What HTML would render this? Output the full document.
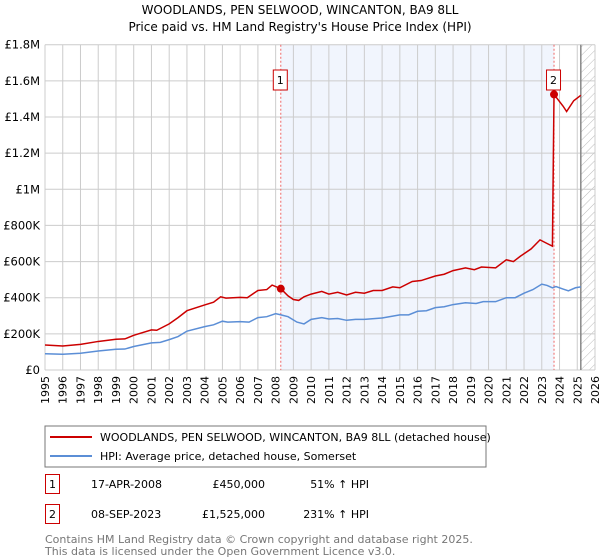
<!DOCTYPE html>
<html><head><meta charset="utf-8"><style>
body{margin:0;width:600px;height:560px;background:#fff;font-family:"DejaVu Sans","Liberation Sans",sans-serif;overflow:hidden}
svg{position:absolute;left:0;top:0}
</style></head><body>
<svg width="600" height="560" id="chart">
<defs><pattern id="hatch" width="6" height="6" patternUnits="userSpaceOnUse" patternTransform="rotate(45)"><line x1="0" y1="0" x2="0" y2="6" stroke="#bbb" stroke-width="1"/></pattern></defs>
<text x="300" y="14" text-anchor="middle" font-size="12">WOODLANDS, PEN SELWOOD, WINCANTON, BA9 8LL</text>
<text x="300" y="31" text-anchor="middle" font-size="12">Price paid vs. HM Land Registry's House Price Index (HPI)</text>
<g id="grid"></g><g id="marks"></g><g id="axes"></g>
<rect x="45" y="426" width="441" height="41" fill="#fff" stroke="#777"/>
<line x1="50" y1="437" x2="92" y2="437" stroke="#cc0000" stroke-width="2"/>
<text x="100" y="441" font-size="11">WOODLANDS, PEN SELWOOD, WINCANTON, BA9 8LL (detached house)</text>
<line x1="50" y1="456" x2="92" y2="456" stroke="#5b8ed6" stroke-width="2"/>
<text x="100" y="460" font-size="11">HPI: Average price, detached house, Somerset</text>
<g font-size="11">
<rect x="45.5" y="474.5" width="14" height="19" fill="#fff" stroke="#cc0000"/>
<text x="52.5" y="488" text-anchor="middle">1</text>
<text x="91" y="488">17-APR-2008</text><text x="265" y="488" text-anchor="end">£450,000</text><text x="369" y="488" text-anchor="end">51% ↑ HPI</text>
<rect x="45.5" y="504.5" width="14" height="19" fill="#fff" stroke="#cc0000"/>
<text x="52.5" y="518" text-anchor="middle">2</text>
<text x="91" y="518">08-SEP-2023</text><text x="265" y="518" text-anchor="end">£1,525,000</text><text x="369" y="518" text-anchor="end">231% ↑ HPI</text>
</g>
<text x="45" y="543" font-size="11" fill="#777">Contains HM Land Registry data © Crown copyright and database right 2025.</text>
<text x="45" y="555" font-size="11" fill="#777">This data is licensed under the Open Government Licence v3.0.</text>
</svg>
<script>
const yTicks=[0,200000,400000,600000,800000,1000000,1200000,1400000,1600000,1800000];
const yTickLabels=["£0","£200K","£400K","£600K","£800K","£1M","£1.2M","£1.4M","£1.6M","£1.8M"];
const xYears=[1995,1996,1997,1998,1999,2000,2001,2002,2003,2004,2005,2006,2007,2008,2009,2010,2011,2012,2013,2014,2015,2016,2017,2018,2019,2020,2021,2022,2023,2024,2025,2026];
const saleDates=[2008.29,2023.69];
const salePrices=[450000,1525000];
const priceT=[1995,1996,1997,1998,1999,1999.5,2000,2001,2001.3,2002,2002.5,2003,2004,2004.5,2004.9,2005.2,2006,2006.4,2007,2007.5,2007.8,2008.29,2008.7,2009,2009.3,2009.6,2010,2010.6,2011,2011.5,2012,2012.5,2013,2013.5,2014,2014.6,2015,2015.7,2016.2,2017,2017.5,2018,2018.7,2019.2,2019.6,2020.4,2021,2021.4,2021.8,2022.4,2022.9,2023.3,2023.6,2023.69,2024.2,2024.4,2024.8,2025.2];
const priceV=[138,133,142,158,170,172,192,222,220,255,290,328,360,375,405,398,402,400,440,445,470,450,410,390,385,405,420,435,420,430,415,430,425,440,440,460,455,490,495,520,530,550,565,555,570,565,610,600,630,670,720,700,685,1525,1460,1430,1490,1520];
const hpiT=[1995,1996,1997,1998,1999,1999.5,2000,2001,2001.5,2002,2002.5,2003,2004,2004.5,2005,2005.3,2006,2006.5,2007,2007.5,2008,2008.3,2008.7,2009.2,2009.6,2010,2010.6,2011,2011.5,2012,2012.5,2013,2014,2015,2015.5,2016,2016.5,2017,2017.5,2018,2018.7,2019.3,2019.7,2020.4,2021,2021.5,2022,2022.5,2023,2023.3,2023.6,2023.8,2024.2,2024.5,2024.9,2025.2];
const hpiV=[90,87,93,105,115,116,130,150,153,168,185,215,240,250,270,265,268,265,290,295,312,305,295,265,255,280,290,282,285,275,280,280,288,305,305,325,328,345,350,362,372,368,378,378,400,400,425,445,475,468,455,462,448,438,455,460];
const L=45,R=595,T=44.7,B=370;
const xs=t=>L+(t-1995)/(2026-1995)*(R-L);
const ys=v=>B-v/1800000*(B-T);
const NS="http://www.w3.org/2000/svg";
function mk(tag,attrs,parent){const e=document.createElementNS(NS,tag);for(const k in attrs)e.setAttribute(k,attrs[k]);parent.appendChild(e);return e;}
const grid=document.getElementById('grid'),marks=document.getElementById('marks'),axes=document.getElementById('axes');
const bg=mk('rect',{x:L,y:T,width:R-L,height:B-T,fill:'#fff'},grid);


const shade=mk('rect',{x:xs(saleDates[0]),y:T,width:xs(saleDates[1])-xs(saleDates[0]),height:B-T,fill:'#eef3fc',opacity:0.8},grid);


const hatch=mk('rect',{x:xs(2025.2),y:T,width:R-xs(2025.2),height:B-T,fill:'url(#hatch)'},grid);


xYears.forEach(y=>{const g=mk('line',{x1:xs(y),x2:xs(y),y1:T,y2:B,stroke:'#ccc'},grid);


const t=mk('text',{x:0,y:0,'font-size':11,'text-anchor':'end',transform:`translate(${xs(y)+4},${B+6}) rotate(-90)`},axes);t.textContent=y;

});
yTicks.forEach((v,i)=>{const g=mk('line',{x1:L,x2:R,y1:ys(v),y2:ys(v),stroke:'#ccc'},grid);


const t=mk('text',{x:L-5,y:ys(v)+4,'font-size':11.5,'text-anchor':'end'},axes);t.textContent=yTickLabels[i];

});
const nowLine=mk('line',{x1:xs(2025.2),x2:xs(2025.2),y1:T,y2:B,stroke:'#888','stroke-width':1.5},grid);


saleDates.forEach((d,i)=>{const l=mk('line',{x1:xs(d),x2:xs(d),y1:T,y2:B,stroke:'#e66','stroke-dasharray':'2,2'},marks);

});
const hp=mk('polyline',{points:hpiT.map((t,i)=>xs(t)+','+ys(hpiV[i]*1000)).join(' '),fill:'none',stroke:'#5b8ed6','stroke-width':1.5},marks);


const pp=mk('polyline',{points:priceT.map((t,i)=>xs(t)+','+ys(priceV[i]*1000)).join(' '),fill:'none',stroke:'#cc0000','stroke-width':1.5},marks);


saleDates.forEach((d,i)=>{const c=mk('circle',{cx:xs(d),cy:ys(salePrices[i]),r:4,fill:'#cc0000'},marks);


const bx=xs(d)-7.5;const r=mk('rect',{x:bx,y:70,width:14,height:20,fill:'#fff',stroke:'#cc0000'},marks);


const t=mk('text',{x:bx+7,y:84,'font-size':11,'text-anchor':'middle'},marks);t.textContent=i+1;

});
</script>
</body></html>
